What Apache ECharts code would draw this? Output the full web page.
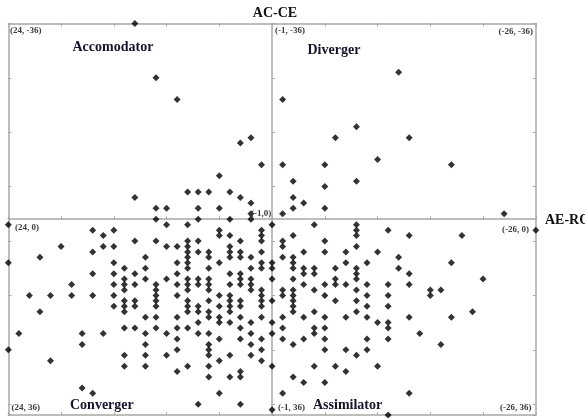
<!DOCTYPE html>
<html>
<head>
<meta charset="utf-8">
<script src="https://cdn.jsdelivr.net/npm/echarts@6/dist/echarts.min.js"></script>
<style>
html,body{margin:0;padding:0;background:#fff;}
#c{width:585px;height:418px;}
</style>
</head>
<body>
<div id="c"></div>
<script>
// ---- data (AE-RO on x, AC-CE on y) ----
const xTicks = [24, 19, 14, 9, 4, -1, -6, -11, -16, -21, -26];
const yTicks = [-36, -26, -16, -6, 4, 14, 24, 34, 36];
const xRange = [-26, 24];
const yRange = [-36, 36];
const crossX = -1;
const crossY = 0;

const accommodator = [
  [12,-36],[12,-4],[10,-26],[10,-2],[9,-2],[8,-22],[7,-5],[6,-5],[6,-2],[5,-5],
  [4,-8],[4,-2],[3,-5],[2,-14],[2,-4],[1,-15],[1,-3],[1,-1],[0,-10]
];
const diverger = [
  [-2,-22],[-2,-10],[-2,-1],[-3,-7],[-3,-4],[-3,-2],[-4,-3],[-6,-10],[-6,-6],[-6,-2],
  [-7,-15],[-9,-17],[-9,-7],[-11,-11],[-13,-27],[-14,-15],[-18,-10],[-23,-1]
];
const converger = [
  [24,1],[24,8],[24,24],[23,21],[22,14],[21,7],[21,17],[20,14],[20,26],[19,5],
  [18,12],[18,14],[17,21],[17,23],[17,31],
  [16,2],[16,6],[16,10],[16,14],[16,32],[15,3],[15,5],[15,21],
  [14,2],[14,5],[14,8],[14,10],[14,12],[14,14],[14,16],
  [13,9],[13,11],[13,12],[13,13],[13,15],[13,16],[13,17],[13,20],[13,25],[13,27],
  [12,4],[12,10],[12,12],[12,15],[12,16],[12,20],
  [11,7],[11,9],[11,11],[11,18],[11,21],[11,23],[11,25],[11,27],
  [10,0],[10,4],[10,12],[10,13],[10,14],[10,15],[10,16],[10,18],[10,20],
  [9,1],[9,5],[9,11],[9,21],[9,25],
  [8,5],[8,8],[8,10],[8,12],[8,14],[8,18],[8,20],[8,22],[8,24],[8,28],
  [7,1],[7,4],[7,5],[7,6],[7,7],[7,8],[7,9],[7,11],[7,12],[7,13],[7,15],[7,16],[7,17],[7,20],[7,27],
  [6,0],[6,4],[6,6],[6,11],[6,12],[6,16],[6,17],[6,19],[6,21],[6,34],
  [5,6],[5,7],[5,9],[5,11],[5,12],[5,13],[5,15],[5,17],[5,18],[5,21],[5,23],[5,24],[5,25],[5,27],[5,29],
  [4,2],[4,3],[4,8],[4,14],[4,16],[4,18],[4,19],[4,22],[4,26],[4,32],
  [3,0],[3,3],[3,5],[3,6],[3,7],[3,10],[3,12],[3,14],[3,15],[3,16],[3,17],[3,19],[3,25],[3,29],
  [2,4],[2,6],[2,7],[2,10],[2,11],[2,12],[2,15],[2,16],[2,18],[2,20],[2,22],[2,28],[2,29],[2,34],
  [1,0],[1,7],[1,9],[1,11],[1,12],[1,13],[1,19],[1,21],[1,23],[1,25],
  [0,2],[0,3],[0,4],[0,6],[0,8],[0,9],[0,13],[0,14],[0,15],[0,16],[0,18],[0,22],[0,24],[0,26]
];
const assimilator = [
  [-1,1],[-1,8],[-1,9],[-1,11],[-1,15],[-1,19],[-1,21],[-1,27],[-1,35],
  [-2,4],[-2,5],[-2,7],[-2,13],[-2,14],[-2,18],[-2,20],[-2,22],[-2,32],
  [-3,3],[-3,7],[-3,8],[-3,9],[-3,11],[-3,13],[-3,14],[-3,15],[-3,16],[-3,17],[-3,23],[-3,29],
  [-4,6],[-4,9],[-4,10],[-4,12],[-4,18],[-4,22],[-4,30],
  [-5,1],[-5,9],[-5,10],[-5,13],[-5,17],[-5,20],[-5,21],[-5,27],
  [-6,4],[-6,6],[-6,12],[-6,14],[-6,18],[-6,20],[-6,22],[-6,24],[-6,30],
  [-7,9],[-7,11],[-7,12],[-7,15],[-7,27],
  [-8,6],[-8,8],[-8,12],[-8,18],[-8,24],[-8,28],
  [-9,1],[-9,2],[-9,3],[-9,5],[-9,9],[-9,10],[-9,11],[-9,13],[-9,15],[-9,17],[-9,25],
  [-10,8],[-10,12],[-10,14],[-10,16],[-10,18],[-10,22],[-10,24],
  [-11,6],[-11,19],[-11,27],
  [-12,2],[-12,12],[-12,14],[-12,16],[-12,19],[-12,20],[-12,22],[-12,36],
  [-13,7],[-13,9],[-14,3],[-14,10],[-14,12],[-14,18],[-14,32],
  [-15,21],[-16,13],[-16,14],[-17,13],[-17,23],[-18,8],[-18,18],
  [-19,3],[-20,17],[-21,11],[-26,2]
];

const quadrantNames = ['Accomodator', 'Diverger', 'Converger', 'Assimilator'];
const axisNames = ['AC-CE', 'AE-RO'];
const cornerLabels = ['(24, -36)', '(-1, -36)', '(-26, -36)', '(24, 0)', '(-1,0)', '(-26, 0)', '(24, 36)', '(-1, 36)', '(-26, 36)'];

// ---- layout ----
const G = {left: 8.3, top: 23.4, width: 527.5, height: 391.7};
const lineColor = '#a8a8a8';
const serif = '"Liberation Serif", "DejaVu Serif", serif';

function axisBase(range, ticks, extra) {
  return Object.assign({
    type: 'value', min: range[0], max: range[1], inverse: true,
    axisLine: {show: true, onZero: false, lineStyle: {color: lineColor, width: 1.5}},
    axisTick: {show: true, inside: true, length: 3, customValues: ticks, lineStyle: {color: lineColor, width: 1}},
    axisLabel: {show: false},
    splitLine: {show: false}
  }, extra);
}

const yCenterOffset = -G.height * (yRange[1] - crossY) / (yRange[1] - yRange[0]);
const xCenterOffset = -G.width * (xRange[1] - crossX) / (xRange[1] - xRange[0]);

const chart = echarts.init(document.getElementById('c'), null, {renderer: 'canvas'});

function mk(name, data) {
  return {
    name: name, type: 'scatter', data: data, xAxisIndex: 0, yAxisIndex: 0,
    symbol: 'diamond', symbolSize: 7,
    itemStyle: {color: '#000000'}, z: 5
  };
}

const big = 'bold 14px ' + serif;
const small = 'bold 9px ' + serif;
function txt(t, x, y, font, fill, align) {
  return {type: 'text', x: x, y: y, z: 10, silent: true,
    style: {text: t, font: font, fill: fill, textAlign: align || 'left', textVerticalAlign: 'middle'}};
}

chart.setOption({
  animation: false,
  grid: {left: G.left, top: G.top, width: G.width, height: G.height, containLabel: false},
  xAxis: [
    axisBase(xRange, xTicks, {position: 'bottom'}),
    axisBase(xRange, xTicks, {position: 'top'}),
    axisBase(xRange, xTicks, {position: 'bottom', offset: yCenterOffset})
  ],
  yAxis: [
    axisBase(yRange, yTicks, {position: 'left'}),
    axisBase(yRange, yTicks, {position: 'right'}),
    axisBase(yRange, yTicks, {position: 'left', offset: xCenterOffset})
  ],
  series: [
    mk(quadrantNames[0], accommodator),
    mk(quadrantNames[1], diverger),
    mk(quadrantNames[2], converger),
    mk(quadrantNames[3], assimilator)
  ],
  graphic: [
    txt(axisNames[0], 275, 13, big, '#111', 'center'),
    txt(axisNames[1], 545, 220, big, '#111', 'left'),
    txt(quadrantNames[0], 72.5, 47, big, '#14142a'),
    txt(quadrantNames[1], 307.5, 50.5, big, '#14142a'),
    txt(quadrantNames[2], 70, 405.5, big, '#14142a'),
    txt(quadrantNames[3], 313, 405, big, '#14142a'),
    txt(cornerLabels[0], 10, 31, small, '#3a3a3a'),
    txt(cornerLabels[1], 275, 31, small, '#3a3a3a'),
    txt(cornerLabels[2], 533, 32, small, '#3a3a3a', 'right'),
    txt(cornerLabels[3], 15, 227.5, small, '#3a3a3a'),
    txt(cornerLabels[4], 251, 213.5, small, '#3a3a3a'),
    txt(cornerLabels[5], 529, 229.5, small, '#3a3a3a', 'right'),
    txt(cornerLabels[6], 11.5, 407.5, small, '#3a3a3a'),
    txt(cornerLabels[7], 278, 408, small, '#3a3a3a'),
    txt(cornerLabels[8], 531.5, 408, small, '#3a3a3a', 'right')
  ]
});
</script>
</body>
</html>
